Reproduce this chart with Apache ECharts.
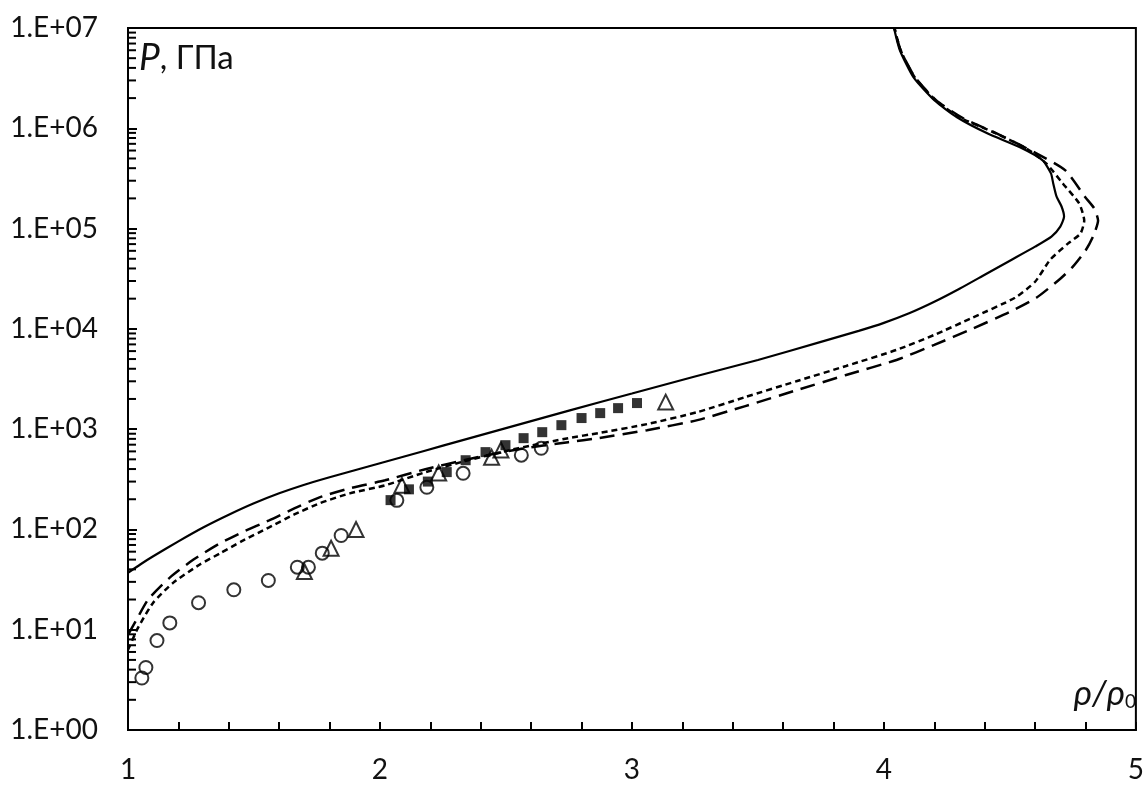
<!DOCTYPE html>
<html>
<head>
<meta charset="utf-8">
<script src="https://cdn.jsdelivr.net/npm/echarts@6/dist/echarts.min.js"></script>
<style>
html,body{margin:0;padding:0;background:#fff;}
#chart{width:1147px;height:785px;}
</style>
</head>
<body>
<div id="chart"></div>
<script>
// ---- data ----
const solidRho = [1.0, 1.05, 1.1, 1.2, 1.3, 1.4, 1.5, 1.6, 1.7, 1.8, 1.9, 2.0, 2.1, 2.25, 2.5, 2.75, 3.0, 3.25, 3.5, 3.75, 3.9, 4.0, 4.1, 4.2, 4.3, 4.4, 4.5, 4.6, 4.665, 4.70, 4.715, 4.705, 4.685, 4.672, 4.663, 4.63, 4.54, 4.41, 4.29, 4.2, 4.117, 4.063, 4.04];
const solidP = [37, 45, 54, 76, 105, 140, 182, 229, 279, 331, 389, 457, 537, 684, 1023, 1531, 2265, 3350, 4898, 7413, 9550, 11480, 14290, 18620, 25120, 34670, 47860, 66070, 83180, 104700, 131800, 166000, 208900, 281800, 354800, 478600, 645700, 891300, 1288000, 1905000, 3236000, 6026000, 10000000];

const shortRho = [1.0, 1.04, 1.1, 1.18, 1.285, 1.364, 1.45, 1.56, 1.66, 1.76, 1.88, 2.02, 2.18, 2.35, 2.55, 2.747, 2.866, 3.06, 3.26, 3.45, 3.656, 3.85, 4.05, 4.2, 4.35, 4.52, 4.6, 4.66, 4.73, 4.78, 4.795, 4.775, 4.71, 4.644, 4.565, 4.435, 4.30, 4.205, 4.122, 4.066, 4.042];
const shortP = [6.3, 10.5, 18.6, 29.5, 44.7, 57.5, 75.9, 105, 141, 182, 229, 275, 372, 490, 646, 813, 912, 1122, 1479, 2089, 3020, 4266, 6166, 8710, 12880, 20420, 29510, 48980, 70800, 89130, 120200, 177800, 281800, 446700, 631000, 912000, 1288000, 1905000, 3236000, 6026000, 10000000];

const longRho = [1.0, 1.034, 1.08, 1.166, 1.26, 1.364, 1.46, 1.56, 1.66, 1.76, 1.88, 2.02, 2.18, 2.35, 2.55, 2.747, 2.866, 3.06, 3.26, 3.45, 3.656, 3.85, 4.05, 4.2, 4.35, 4.5, 4.605, 4.7, 4.75, 4.8, 4.83, 4.85, 4.835, 4.80, 4.72, 4.605, 4.455, 4.315, 4.207, 4.123, 4.066, 4.042];
const longP = [8.9, 12.6, 20, 33.1, 50.1, 72.4, 95.5, 123, 162, 209, 257, 309, 398, 501, 631, 741, 813, 977, 1230, 1698, 2455, 3467, 4898, 6918, 10000, 14790, 20420, 31620, 41690, 60260, 83180, 120200, 158500, 204200, 380200, 562300, 871000, 1259000, 1905000, 3236000, 6026000, 10000000];

const circleRho = [1.055, 1.071, 1.115, 1.166, 1.28, 1.42, 1.557, 1.672, 1.716, 1.771, 1.846, 2.067, 2.186, 2.33, 2.561, 2.64];
const circleP = [3.3, 4.2, 7.8, 11.7, 18.6, 25, 31, 42, 42, 58, 87, 195, 263, 363, 550, 645];

const triRho = [1.70, 1.806, 1.905, 2.087, 2.233, 2.443, 2.48, 3.134];
const triP = [38, 65, 100, 275, 365, 525, 620, 1860];

const sqRho = [2.042, 2.115, 2.19, 2.265, 2.34, 2.419, 2.498, 2.57, 2.644, 2.72, 2.80, 2.874, 2.945, 3.02];
const sqP = [196, 251, 300, 373, 490, 590, 692, 813, 933, 1096, 1290, 1445, 1620, 1820];

const xTicks = [1, 2, 3, 4, 5];
const yMinorMultipliers = [2, 3, 4, 5, 6, 7, 8, 9];
const yDecadeStarts = [1, 10, 100, 1000, 10000, 100000, 1000000];

// ---- build ----
function pairs(xs, ys){ return xs.map((x,i)=>[x, ys[i]]); }
const minorTickData = [];
yDecadeStarts.forEach(d => yMinorMultipliers.forEach(k => minorTickData.push([1, d * k])));
const FONT = 'Lato, "Open Sans", "DejaVu Sans", sans-serif';

const chart = echarts.init(document.getElementById('chart'), null, {renderer:'canvas'});
const option = {
  animation: false,
  backgroundColor: '#fff',
  grid: {left: 128, right: 7, top: 28, bottom: 55, show: true, borderColor: '#000', borderWidth: 2, containLabel: false},
  xAxis: {
    type: 'value', min: 1, max: 5, interval: 1,
    axisLine: {show: true, onZero: false, lineStyle: {color: '#000', width: 2}},
    axisTick: {show: true, inside: true, length: 8, lineStyle: {color: '#000', width: 2}},
    minorTick: {show: true, splitNumber: 5, length: 8, lineStyle: {color: '#000', width: 2}},
    splitLine: {show: false},
    axisLabel: {color: '#111', fontSize: 28, fontFamily: FONT, margin: 26,
      customValues: xTicks, formatter: v => String(v)}
  },
  yAxis: {
    type: 'log', logBase: 10, min: 1, max: 10000000,
    axisLine: {show: true, onZero: false, lineStyle: {color: '#000', width: 2}},
    axisTick: {show: true, inside: true, length: 9, lineStyle: {color: '#000', width: 2}},
    splitLine: {show: false},
    axisLabel: {color: '#111', fontSize: 28, fontFamily: FONT, margin: 30,
      formatter: v => '1.E+' + String(Math.round(Math.log10(v))).padStart(2, '0')}
  },
  graphic: [
    {type: 'text', left: 139, top: 40, style: {
      text: '{p|P}{t|, ГПа}',
      rich: {
        p: {fontSize: 37, fontStyle: 'italic', fontFamily: FONT, fill: '#111'},
        t: {fontSize: 33, fontFamily: FONT, fill: '#111'}
      }}},
    {type: 'text', right: 11, top: 676, style: {
      text: '{r|ρ}{t|/}{r|ρ}{s|0}',
      rich: {
        r: {fontSize: 35, fontStyle: 'italic', fontFamily: FONT, fill: '#111'},
        t: {fontSize: 35, fontStyle: 'italic', fontFamily: FONT, fill: '#111'},
        s: {fontSize: 19, fontFamily: FONT, fill: '#111', verticalAlign: 'bottom', padding: [14, 0, 0, 0]}
      }}}
  ],
  series: [
    {type: 'custom', name: 'yMinorTicks', coordinateSystem: 'cartesian2d', data: minorTickData, silent: true, clip: false, z: 4,
      encode: {x: 0, y: 1},
      renderItem: (params, api) => {
        const p = api.coord([api.value(0), api.value(1)]);
        return {type: 'line', shape: {x1: p[0], y1: p[1], x2: p[0] + 8, y2: p[1]},
          style: {stroke: '#000', lineWidth: 2}};
      }},
    {type: 'line', name: 'solid', data: pairs(solidRho, solidP), showSymbol: false, smooth: 0.2,
      lineStyle: {color: '#000', width: 2.2, type: 'solid'}, z: 3},
    {type: 'line', name: 'short', data: pairs(shortRho, shortP), showSymbol: false, smooth: 0.2,
      lineStyle: {color: '#000', width: 2.5, type: [6, 4]}, z: 3},
    {type: 'line', name: 'long', data: pairs(longRho, longP), showSymbol: false, smooth: 0.2,
      lineStyle: {color: '#000', width: 2.5, type: [15, 8]}, z: 3},
    {type: 'scatter', name: 'circles', data: pairs(circleRho, circleP), symbol: 'circle', symbolSize: 13,
      itemStyle: {color: 'rgba(0,0,0,0)', borderColor: '#000', borderWidth: 2}, z: 5},
    {type: 'scatter', name: 'triangles', data: pairs(triRho, triP), symbol: 'triangle', symbolSize: 15,
      itemStyle: {color: 'rgba(0,0,0,0)', borderColor: '#000', borderWidth: 2}, z: 5},
    {type: 'scatter', name: 'squares', data: pairs(sqRho, sqP), symbol: 'rect', symbolSize: 10,
      itemStyle: {color: '#000'}, z: 5}
  ]
};
chart.setOption(option);
</script>
</body>
</html>
